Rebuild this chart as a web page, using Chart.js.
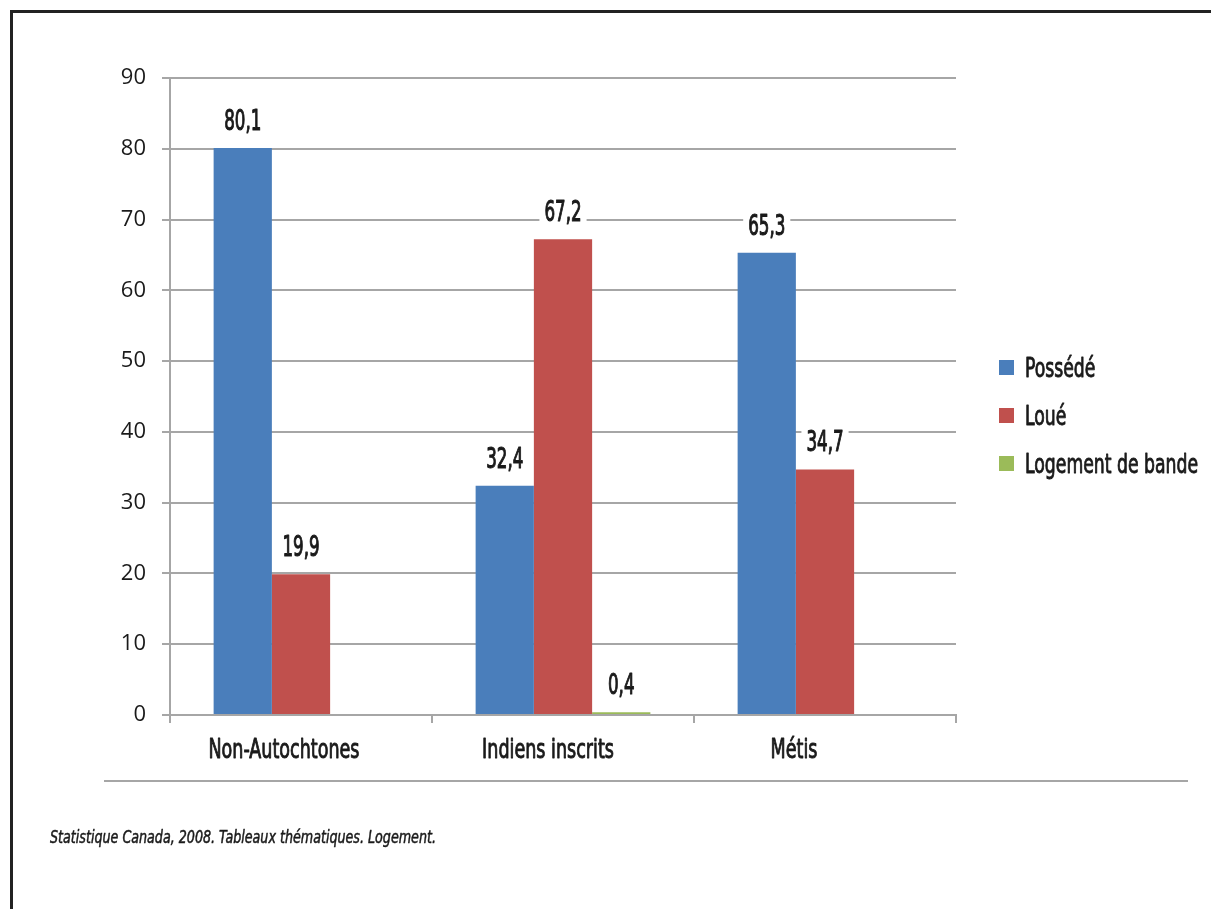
<!DOCTYPE html>
<html lang="fr">
<head>
<meta charset="utf-8">
<title>Mode d'occupation du logement</title>
<script src="https://cdn.jsdelivr.net/npm/chart.js@4.4.1/dist/chart.umd.min.js"></script>
<style>
  html, body { margin: 0; padding: 0; background: #ffffff; }
  #wrap { position: relative; width: 1211px; height: 909px; }
  canvas { display: block; }
</style>
</head>
<body>
<div id="wrap"><canvas id="chart" width="1211" height="909"></canvas></div>
<script>
// Catégories et séries (pourcentages)
const categories = ['Non-Autochtones', 'Indiens inscrits', 'Métis'];
const seriesNames = ['Possédé', 'Loué', 'Logement de bande'];
const possede = [80.1, 32.4, 65.3];
const loue = [19.9, 67.2, 34.7];
const logementBande = [null, 0.4, null];
const yTicks = [0, 10, 20, 30, 40, 50, 60, 70, 80, 90];
const sourceText = 'Statistique Canada, 2008. Tableaux thématiques. Logement.';

const colors = ['#4a7ebb', '#c0504d', '#9bbb59'];
const condensed = '"DejaVu Sans Condensed", "Liberation Sans Narrow", sans-serif';
const gridColor = '#a6a6a6';
const textColor = '#1a1a1a';

function fmt(v) { return v.toFixed(1).replace('.', ','); }

// Texte étroit : police condensée resserrée horizontalement, trait légèrement renforcé
function narrowText(ctx, txt, x, y, sx, align, weight) {
  ctx.save();
  ctx.translate(x, y);
  ctx.scale(sx, 1);
  ctx.textAlign = align;
  ctx.fillText(txt, 0, 0);
  if (weight) {
    ctx.strokeStyle = ctx.fillStyle;
    ctx.lineWidth = weight;
    ctx.lineJoin = 'round';
    ctx.strokeText(txt, 0, 0);
  }
  ctx.restore();
}

// Étiquettes de valeur au-dessus des barres, sur fond blanc
const valueLabels = {
  id: 'valueLabels',
  afterDatasetsDraw(chart) {
    const ctx = chart.ctx;
    const sx = 0.64;
    ctx.save();
    ctx.font = '29px ' + condensed;
    ctx.textBaseline = 'alphabetic';
    chart.data.datasets.forEach((ds, di) => {
      const meta = chart.getDatasetMeta(di);
      meta.data.forEach((bar, i) => {
        const v = ds.data[i];
        if (v === null || v === undefined) return;
        const txt = fmt(v);
        const w = ctx.measureText(txt).width * sx;
        const base = bar.y - 18;
        ctx.fillStyle = '#ffffff';
        ctx.fillRect(bar.x - w / 2 - 5, base - 25, w + 10, 33);
        ctx.fillStyle = textColor;
        narrowText(ctx, txt, bar.x, base, sx, 'center', 1.1);
      });
    });
    ctx.restore();
  }
};

// Libellés des catégories, placés sous les graduations de l'axe x
const labelShift = [-17, -15, -31];
const categoryLabels = {
  id: 'categoryLabels',
  afterDraw(chart) {
    const ctx = chart.ctx;
    const xs = chart.scales.x;
    ctx.save();
    ctx.font = '26px ' + condensed;
    ctx.fillStyle = textColor;
    ctx.textBaseline = 'alphabetic';
    xs.ticks.forEach((t, i) => {
      narrowText(ctx, xs.getLabelForValue(t.value), xs.getPixelForTick(i) + labelShift[i],
        chart.chartArea.bottom + 43, 0.75, 'center', 0.9);
    });
    ctx.restore();
  }
};

// Légende, ligne de séparation, source et cadre
const decorations = {
  id: 'decorations',
  afterDraw(chart) {
    const ctx = chart.ctx;
    const area = chart.chartArea;
    ctx.save();
    // légende
    ctx.font = '27px ' + condensed;
    ctx.textBaseline = 'alphabetic';
    chart.data.datasets.forEach((ds, i) => {
      const y = 367 + i * 48;
      const x = area.right + 43;
      ctx.fillStyle = ds.backgroundColor;
      ctx.fillRect(x, y - 7, 15, 15);
      ctx.fillStyle = textColor;
      narrowText(ctx, ds.label, x + 26, y + 10, 0.71, 'left', 0.9);
    });
    // ligne horizontale sous l'axe
    ctx.strokeStyle = gridColor;
    ctx.lineWidth = 2;
    ctx.beginPath();
    ctx.moveTo(104, 781);
    ctx.lineTo(1188, 781);
    ctx.stroke();
    // source
    ctx.font = 'italic 17px ' + condensed;
    ctx.fillStyle = textColor;
    ctx.textBaseline = 'middle';
    narrowText(ctx, sourceText, 50, 839, 0.83, 'left', 0.5);
    // cadre
    ctx.strokeStyle = '#222222';
    ctx.lineWidth = 3;
    ctx.beginPath();
    ctx.moveTo(11.5, 909);
    ctx.lineTo(11.5, 11.5);
    ctx.lineTo(1211, 11.5);
    ctx.stroke();
    ctx.restore();
  }
};

new Chart(document.getElementById('chart'), {
  type: 'bar',
  data: {
    labels: categories,
    datasets: [
      { label: seriesNames[0], data: possede, backgroundColor: colors[0] },
      { label: seriesNames[1], data: loue, backgroundColor: colors[1] },
      { label: seriesNames[2], data: logementBande, backgroundColor: colors[2] }
    ]
  },
  options: {
    responsive: false,
    animation: false,
    devicePixelRatio: 1,
    layout: { padding: { left: 0, right: 255, top: 78, bottom: 100 } },
    datasets: {
      bar: { categoryPercentage: 0.667, barPercentage: 1, borderWidth: 0 }
    },
    plugins: {
      legend: { display: false },
      tooltip: { enabled: false }
    },
    scales: {
      x: {
        grid: {
          offset: true,
          drawOnChartArea: false,
          drawTicks: true,
          tickLength: 8,
          color: gridColor,
          lineWidth: 2
        },
        border: { color: gridColor, width: 2 },
        ticks: { display: false },
        afterFit(scale) { scale.height = 909 - 715 - 100; }
      },
      y: {
        min: 0,
        max: 90,
        afterBuildTicks(scale) { scale.ticks = yTicks.map(v => ({ value: v })); },
        grid: {
          color: gridColor,
          lineWidth: 2,
          drawTicks: true,
          tickLength: 8
        },
        border: { color: gridColor, width: 2 },
        ticks: {
          color: textColor,
          font: { family: '"Open Sans", sans-serif', size: 22 },
          padding: 16
        },
        afterFit(scale) { scale.width = 170; }
      }
    }
  },
  plugins: [valueLabels, categoryLabels, decorations]
});
</script>
</body>
</html>
